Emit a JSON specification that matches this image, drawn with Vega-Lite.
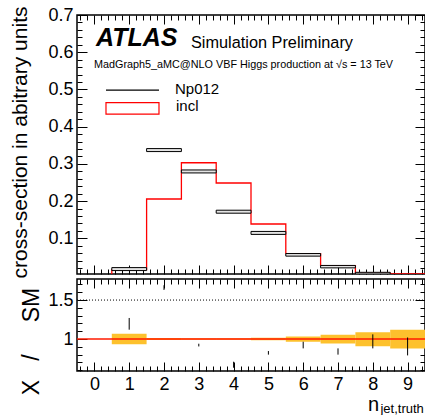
{
  "$schema": "https://vega.github.io/schema/vega-lite/v6.json",
  "padding": {"left": 8, "top": 5, "right": 0, "bottom": 0},
  "bounds": "flush",
  "spacing": 5,
  "config": {
    "view": {"stroke": "black", "strokeWidth": 1.5},
    "axis": {"domain": false, "grid": false, "tickColor": "black", "tickWidth": 1, "labelColor": "black", "labelFont": "Liberation Sans", "titleFont": "Liberation Sans", "titleColor": "black", "titleFontWeight": "normal", "labelFontSize": 18},
    "text": {"font": "Liberation Sans", "color": "black"}
  },
  "datasets": {
    "incl_edges": [
      {"edge": -0.5, "incl": 0},
      {"edge": 0.5, "incl": 0.016},
      {"edge": 1.5, "incl": 0.2055},
      {"edge": 2.5, "incl": 0.303},
      {"edge": 3.5, "incl": 0.2486},
      {"edge": 4.5, "incl": 0.1384},
      {"edge": 5.5, "incl": 0.059},
      {"edge": 6.5, "incl": 0.0265},
      {"edge": 7.5, "incl": 0.007},
      {"edge": 8.5, "incl": 0.0045},
      {"edge": 9.5, "incl": 0.0045}
    ],
    "np012": [
      {"lo": 0.5, "hi": 1.5, "np_lo": 0.0132, "np_hi": 0.0212},
      {"lo": 1.5, "hi": 2.5, "np_lo": 0.333, "np_hi": 0.341},
      {"lo": 2.5, "hi": 3.5, "np_lo": 0.2756, "np_hi": 0.2836},
      {"lo": 3.5, "hi": 4.5, "np_lo": 0.1674, "np_hi": 0.1754},
      {"lo": 4.5, "hi": 5.5, "np_lo": 0.1104, "np_hi": 0.1184},
      {"lo": 5.5, "hi": 6.5, "np_lo": 0.052, "np_hi": 0.059},
      {"lo": 6.5, "hi": 7.5, "np_lo": 0.0205, "np_hi": 0.027},
      {"lo": 7.5, "hi": 8.5, "np_lo": 0.004, "np_hi": 0.0085}
    ],
    "ratio": [
      {"lo": 0.5, "hi": 1.5, "c": 1, "band_lo": 0.932, "band_hi": 1.068, "r_lo": 1.12, "r_hi": 1.27},
      {"lo": 1.5, "hi": 2.5, "c": 2, "band_lo": 0.988, "band_hi": 1.012, "r_lo": 1.63, "r_hi": 1.69},
      {"lo": 2.5, "hi": 3.5, "c": 3, "band_lo": 0.99, "band_hi": 1.01, "r_lo": 0.905, "r_hi": 0.94},
      {"lo": 3.5, "hi": 4.5, "c": 4, "band_lo": 0.99, "band_hi": 1.01, "r_lo": 0.632, "r_hi": 0.709},
      {"lo": 4.5, "hi": 5.5, "c": 5, "band_lo": 0.985, "band_hi": 1.015, "r_lo": 0.8, "r_hi": 0.846},
      {"lo": 5.5, "hi": 6.5, "c": 6, "band_lo": 0.966, "band_hi": 1.034, "r_lo": 0.88, "r_hi": 0.965},
      {"lo": 6.5, "hi": 7.5, "c": 7, "band_lo": 0.944, "band_hi": 1.056, "r_lo": 0.8, "r_hi": 0.88},
      {"lo": 7.5, "hi": 8.5, "c": 8, "band_lo": 0.908, "band_hi": 1.087, "r_lo": 0.88, "r_hi": 1.06},
      {"lo": 8.5, "hi": 9.5, "c": 9, "band_lo": 0.88, "band_hi": 1.12, "r_lo": 0.79, "r_hi": 1.02}
    ]
  },
  "vconcat": [
    {
      "width": 348,
      "height": 259,
      "layer": [
        {
          "data": {"name": "incl_edges"},
          "mark": {"type": "line", "interpolate": "step-after", "color": "#ff0000", "strokeWidth": 1.3, "clip": true},
          "encoding": {
            "x": {"field": "edge", "type": "quantitative", "scale": {"domain": [-0.5, 9.5], "nice": false, "zero": false},
                  "axis": {"orient": "bottom", "values": [0,1,2,3,4,5,6,7,8,9], "labels": false, "tickSize": -9, "title": null}},
            "y": {"field": "incl", "type": "quantitative", "scale": {"domain": [0.004, 0.7], "nice": false, "zero": false},
                  "axis": {"orient": "left", "values": [0.1,0.2,0.3,0.4,0.5,0.6,0.7], "format": ".1f", "tickSize": -10, "labelPadding": 14,
                           "title": "cross-section in abitrary units", "titleFontSize": 21, "titleX": -51, "titleY": 127, "titleAngle": 270, "titleAlign": "center", "titleBaseline": "alphabetic"}}
          }
        },
        {
          "data": {"name": "np012"},
          "mark": {"type": "rect", "fill": "#e4e4e4", "stroke": "black", "strokeWidth": 1, "clip": true},
          "encoding": {
            "x": {"field": "lo", "type": "quantitative", "scale": {"domain": [-0.5, 9.5], "nice": false, "zero": false},
                  "axis": {"orient": "bottom", "values": [-0.4,-0.2,0.2,0.4,0.6,0.8,1.2,1.4,1.6,1.8,2.2,2.4,2.6,2.8,3.2,3.4,3.6,3.8,4.2,4.4,4.6,4.8,5.2,5.4,5.6,5.8,6.2,6.4,6.6,6.8,7.2,7.4,7.6,7.8,8.2,8.4,8.6,8.8,9.2,9.4], "labels": false, "tickSize": -5, "title": null}},
            "x2": {"field": "hi"},
            "y": {"field": "np_lo", "type": "quantitative", "scale": {"domain": [0.004, 0.7], "nice": false, "zero": false},
                  "axis": {"orient": "left", "values": [0.02,0.04,0.06,0.08,0.12,0.14,0.16,0.18,0.22,0.24,0.26,0.28,0.32,0.34,0.36,0.38,0.42,0.44,0.46,0.48,0.52,0.54,0.56,0.58,0.62,0.64,0.66,0.68], "labels": false, "tickSize": -5, "title": null}},
            "y2": {"field": "np_hi"}
          }
        },
        {
          "data": {"values": [{}]},
          "mark": {"type": "rule", "color": "black", "strokeWidth": 1.2},
          "encoding": {
            "x": {"datum": 0.333, "type": "quantitative", "scale": {"domain": [-0.5, 9.5], "nice": false, "zero": false},
                  "axis": {"orient": "top", "values": [0,1,2,3,4,5,6,7,8,9], "labels": false, "tickSize": -9, "title": null}},
            "x2": {"datum": 1.856},
            "y": {"datum": 0.498, "type": "quantitative", "scale": {"domain": [0.004, 0.7], "nice": false, "zero": false},
                  "axis": {"orient": "right", "values": [0.1,0.2,0.3,0.4,0.5,0.6,0.7], "labels": false, "tickSize": -10, "title": null}}
          }
        },
        {
          "data": {"values": [{}]},
          "mark": {"type": "rect", "fill": "transparent", "stroke": "#ff0000", "strokeWidth": 1.2},
          "encoding": {
            "x": {"datum": 0.333, "type": "quantitative", "scale": {"domain": [-0.5, 9.5], "nice": false, "zero": false},
                  "axis": {"orient": "top", "values": [-0.4,-0.2,0.2,0.4,0.6,0.8,1.2,1.4,1.6,1.8,2.2,2.4,2.6,2.8,3.2,3.4,3.6,3.8,4.2,4.4,4.6,4.8,5.2,5.4,5.6,5.8,6.2,6.4,6.6,6.8,7.2,7.4,7.6,7.8,8.2,8.4,8.6,8.8,9.2,9.4], "labels": false, "tickSize": -5, "title": null}},
            "x2": {"datum": 1.856},
            "y": {"datum": 0.4336, "type": "quantitative", "scale": {"domain": [0.004, 0.7], "nice": false, "zero": false},
                  "axis": {"orient": "right", "values": [0.02,0.04,0.06,0.08,0.12,0.14,0.16,0.18,0.22,0.24,0.26,0.28,0.32,0.34,0.36,0.38,0.42,0.44,0.46,0.48,0.52,0.54,0.56,0.58,0.62,0.64,0.66,0.68], "labels": false, "tickSize": -5, "title": null}},
            "y2": {"datum": 0.4647}
          }
        },
        {
          "data": {"values": [{}]},
          "mark": {"type": "text", "text": "ATLAS", "fontWeight": "bold", "fontStyle": "italic", "fontSize": 25, "align": "left", "baseline": "alphabetic"},
          "encoding": {"x": {"datum": 0.046, "type": "quantitative", "axis": null}, "y": {"datum": 0.617, "type": "quantitative", "axis": null}}
        },
        {
          "data": {"values": [{}]},
          "mark": {"type": "text", "text": "Simulation Preliminary", "fontSize": 16.3, "align": "left", "baseline": "alphabetic"},
          "encoding": {"x": {"datum": 2.776, "type": "quantitative", "axis": null}, "y": {"datum": 0.611, "type": "quantitative", "axis": null}}
        },
        {
          "data": {"values": [{}]},
          "mark": {"type": "text", "text": "MadGraph5_aMC@NLO VBF Higgs production at  √s = 13 TeV", "fontSize": 10.8, "align": "left", "baseline": "alphabetic"},
          "encoding": {"x": {"datum": -0.011, "type": "quantitative", "axis": null}, "y": {"datum": 0.558, "type": "quantitative", "axis": null}}
        },
        {
          "data": {"values": [{}]},
          "mark": {"type": "text", "text": "Np012", "fontSize": 15, "align": "left", "baseline": "alphabetic"},
          "encoding": {"x": {"datum": 2.316, "type": "quantitative", "axis": null}, "y": {"datum": 0.488, "type": "quantitative", "axis": null}}
        },
        {
          "data": {"values": [{}]},
          "mark": {"type": "text", "text": "incl", "fontSize": 15, "align": "left", "baseline": "alphabetic"},
          "encoding": {"x": {"datum": 2.345, "type": "quantitative", "axis": null}, "y": {"datum": 0.442, "type": "quantitative", "axis": null}}
        }
      ],
      "resolve": {"axis": {"x": "independent", "y": "independent"}}
    },
    {
      "width": 348,
      "height": 92,
      "layer": [
        {
          "data": {"name": "ratio"},
          "mark": {"type": "rect", "fill": "#fdc12d", "clip": true},
          "encoding": {
            "x": {"field": "lo", "type": "quantitative", "scale": {"domain": [-0.5, 9.5], "nice": false, "zero": false},
                  "axis": {"orient": "bottom", "values": [0,1,2,3,4,5,6,7,8,9], "format": "d", "tickSize": -9, "labelPadding": 13, "title": null}},
            "x2": {"field": "hi"},
            "y": {"field": "band_lo", "type": "quantitative", "scale": {"domain": [0.59, 1.77], "nice": false, "zero": false},
                  "axis": {"orient": "left", "values": [1, 1.5], "format": "~g", "tickSize": -10, "labelPadding": 14,
                           "title": "X\u00a0\u00a0\u00a0/\u00a0\u00a0\u00a0\u00a0\u00a0SM", "titleFontSize": 23, "titleX": -39, "titleY": 62, "titleAngle": 270, "titleAlign": "center", "titleBaseline": "alphabetic"}},
            "y2": {"field": "band_hi"}
          }
        },
        {
          "data": {"values": [{}]},
          "mark": {"type": "rule", "color": "#ff1a00", "strokeWidth": 1.5},
          "encoding": {
            "x": {"datum": -0.5, "type": "quantitative", "scale": {"domain": [-0.5, 9.5], "nice": false, "zero": false},
                  "axis": {"orient": "bottom", "values": [-0.4,-0.2,0.2,0.4,0.6,0.8,1.2,1.4,1.6,1.8,2.2,2.4,2.6,2.8,3.2,3.4,3.6,3.8,4.2,4.4,4.6,4.8,5.2,5.4,5.6,5.8,6.2,6.4,6.6,6.8,7.2,7.4,7.6,7.8,8.2,8.4,8.6,8.8,9.2,9.4], "labels": false, "tickSize": -5, "title": null}},
            "x2": {"datum": 9.5},
            "y": {"datum": 1, "type": "quantitative", "scale": {"domain": [0.59, 1.77], "nice": false, "zero": false},
                  "axis": {"orient": "left", "values": [0.6,0.7,0.8,0.9,1.1,1.2,1.3,1.4,1.6,1.7], "labels": false, "tickSize": -5, "title": null}}
          }
        },
        {
          "data": {"values": [{}]},
          "mark": {"type": "rule", "color": "black", "strokeWidth": 1, "strokeDash": [1, 2]},
          "encoding": {
            "x": {"datum": -0.5, "type": "quantitative", "scale": {"domain": [-0.5, 9.5], "nice": false, "zero": false},
                  "axis": {"orient": "top", "values": [0,1,2,3,4,5,6,7,8,9], "labels": false, "tickSize": -9, "title": null}},
            "x2": {"datum": 9.5},
            "y": {"datum": 1.5, "type": "quantitative", "scale": {"domain": [0.59, 1.77], "nice": false, "zero": false},
                  "axis": {"orient": "right", "values": [1, 1.5], "labels": false, "tickSize": -10, "title": null}}
          }
        },
        {
          "data": {"name": "ratio"},
          "mark": {"type": "rule", "color": "black", "strokeWidth": 1, "clip": true},
          "encoding": {
            "x": {"field": "c", "type": "quantitative", "scale": {"domain": [-0.5, 9.5], "nice": false, "zero": false},
                  "axis": {"orient": "top", "values": [-0.4,-0.2,0.2,0.4,0.6,0.8,1.2,1.4,1.6,1.8,2.2,2.4,2.6,2.8,3.2,3.4,3.6,3.8,4.2,4.4,4.6,4.8,5.2,5.4,5.6,5.8,6.2,6.4,6.6,6.8,7.2,7.4,7.6,7.8,8.2,8.4,8.6,8.8,9.2,9.4], "labels": false, "tickSize": -5, "title": null}},
            "y": {"field": "r_lo", "type": "quantitative", "scale": {"domain": [0.59, 1.77], "nice": false, "zero": false},
                  "axis": {"orient": "right", "values": [0.6,0.7,0.8,0.9,1.1,1.2,1.3,1.4,1.6,1.7], "labels": false, "tickSize": -5, "title": null}},
            "y2": {"field": "r_hi"}
          }
        },
        {
          "data": {"values": [{}]},
          "mark": {"type": "text", "text": "n", "fontSize": 20, "align": "left", "baseline": "alphabetic"},
          "encoding": {"x": {"datum": 7.86, "type": "quantitative", "axis": null}, "y": {"datum": 0.077, "type": "quantitative", "axis": null}}
        },
        {
          "data": {"values": [{}]},
          "mark": {"type": "text", "text": "jet,truth", "fontSize": 13, "align": "left", "baseline": "alphabetic"},
          "encoding": {"x": {"datum": 8.22, "type": "quantitative", "axis": null}, "y": {"datum": 0.05, "type": "quantitative", "axis": null}}
        }
      ],
      "resolve": {"axis": {"x": "independent", "y": "independent"}}
    }
  ]
}
